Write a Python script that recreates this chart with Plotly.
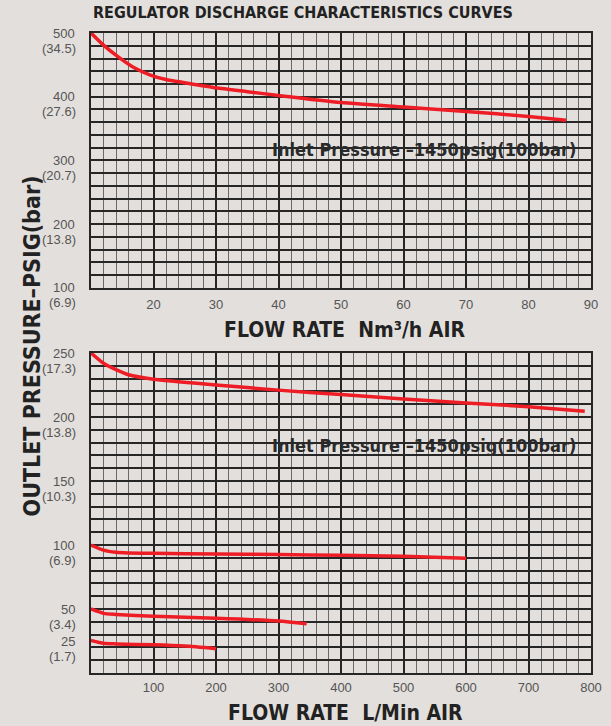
import plotly.graph_objects as go
from plotly.subplots import make_subplots

# ---------------- data ----------------
top_flow = [10, 12, 14.3, 17, 19.5, 22, 25, 30, 35, 40, 50, 60, 70, 80, 86]
top_press = [500, 481, 463, 445, 434, 427, 422, 414, 408, 402, 391, 384, 377, 369, 363]

c250_flow = [0, 20, 40, 60, 100, 200, 300, 400, 500, 600, 700, 790]
c250_press = [250, 242, 237, 233, 229.5, 225, 221, 217.5, 214, 211, 208, 204.5]
c100_flow = [0, 20, 40, 60, 100, 200, 300, 400, 500, 600]
c100_press = [100, 96, 94.3, 93.8, 93.5, 93, 92.5, 92, 91.3, 89.6]
c50_flow = [0, 20, 40, 100, 200, 300, 345]
c50_press = [50, 46.6, 45.8, 44.3, 42.7, 40.6, 38.5]
c25_flow = [0, 20, 40, 100, 150, 200]
c25_press = [25.5, 23.2, 22.7, 22, 21, 19]

top_xticks = [20, 30, 40, 50, 60, 70, 80, 90]
bot_xticks = [100, 200, 300, 400, 500, 600, 700, 800]
top_yticks = [100, 200, 300, 400, 500]
top_ybar = ["(6.9)", "(13.8)", "(20.7)", "(27.6)", "(34.5)"]
bot_yticks = [25, 50, 100, 150, 200, 250]
bot_ybar = ["(1.7)", "(3.4)", "(6.9)", "(10.3)", "(13.8)", "(17.3)"]

title_text = "REGULATOR DISCHARGE CHARACTERISTICS CURVES"
ytitle_text = "OUTLET PRESSURE–PSIG(bar)"
top_xtitle = "FLOW RATE  Nm³/h AIR"
bot_xtitle = "FLOW RATE  L/Min AIR"
inlet_text = "Inlet Pressure –1450psig(100bar)"

# ---------------- style ----------------
BG = "#e3dfdc"
RED = "#ee1d25"
DARK = "#262626"
MINOR = "#6a6a6a"
COND = "Liberation Sans Narrow, DejaVu Sans Condensed, Roboto, sans-serif"
TICKF = "Liberation Sans, Arial, sans-serif"

fig = make_subplots(rows=2, cols=1, vertical_spacing=0.0)

line = dict(color=RED, width=3.5, shape="spline", smoothing=0.6)
fig.add_trace(go.Scatter(x=top_flow, y=top_press, mode="lines", line=line,
                         showlegend=False, hoverinfo="skip"), row=1, col=1)
for fx, py in [(c250_flow, c250_press), (c100_flow, c100_press),
               (c50_flow, c50_press), (c25_flow, c25_press)]:
    fig.add_trace(go.Scatter(x=fx, y=py, mode="lines", line=line,
                             showlegend=False, hoverinfo="skip"), row=2, col=1)

axis_common = dict(showline=True, linecolor=DARK, linewidth=2, mirror=True,
                   zeroline=False, ticks="", fixedrange=True)

fig.update_xaxes(row=1, col=1, range=[10, 90], tickmode="array", tickvals=top_xticks,
                 showgrid=True, gridcolor=DARK, gridwidth=2,
                 minor=dict(tick0=10, dtick=2, showgrid=True, gridcolor=MINOR, gridwidth=1.3),
                 tickfont=dict(family=TICKF, size=13, color="#555555"),
                 ticklabelstandoff=3, domain=[0, 1], **axis_common)
fig.update_xaxes(row=2, col=1, range=[0, 800], tickmode="array", tickvals=bot_xticks,
                 showgrid=True, gridcolor=DARK, gridwidth=2,
                 minor=dict(tick0=0, dtick=20, showgrid=True, gridcolor=MINOR, gridwidth=1.3),
                 tickfont=dict(family=TICKF, size=13, color="#555555"),
                 ticklabelstandoff=1, domain=[0, 1], **axis_common)
fig.update_yaxes(row=1, col=1, range=[100, 500], tick0=100, dtick=20,
                 showgrid=True, gridcolor=DARK, gridwidth=2, showticklabels=False,
                 domain=[0.6016, 1], **axis_common)
fig.update_yaxes(row=2, col=1, range=[0, 250], tick0=0, dtick=10,
                 showgrid=True, gridcolor=DARK, gridwidth=2, showticklabels=False,
                 domain=[0, 0.5], **axis_common)

ann = []
tf = dict(family=TICKF, size=13, color="#555555")
for yref, vals, bars in [("y", top_yticks, top_ybar), ("y2", bot_yticks, bot_ybar)]:
    for v, b in zip(vals, bars):
        ann.append(dict(xref="paper", yref=yref, x=0, y=v, xshift=-14, text=str(v),
                        xanchor="right", yanchor="middle", showarrow=False, font=tf))
        ann.append(dict(xref="paper", yref=yref, x=0, y=v, xshift=-13, yshift=-15, text=b,
                        xanchor="right", yanchor="middle", showarrow=False, font=tf))

ann.append(dict(xref="paper", yref="paper", x=0, y=1, xanchor="left", yanchor="bottom",
                yshift=9, text="<b>" + title_text + "</b>", showarrow=False,
                font=dict(family=COND, size=16, color="#222222")))
ann.append(dict(xref="paper", yref="paper", x=-0.119, y=0.511, xanchor="center", yanchor="middle",
                textangle=-90, text="<b>" + ytitle_text + "</b>", showarrow=False,
                font=dict(family=COND, size=23, color="#222222")))
ann.append(dict(xref="paper", yref="paper", x=0.507, y=(673 - 330) / 640, xanchor="center",
                yanchor="middle", text="<b>" + top_xtitle + "</b>", showarrow=False,
                font=dict(family=COND, size=21, color="#222222")))
ann.append(dict(xref="paper", yref="paper", x=0.509, y=(673 - 713) / 640, xanchor="center",
                yanchor="middle", text="<b>" + bot_xtitle + "</b>", showarrow=False,
                font=dict(family=COND, size=21, color="#222222")))
for yp in [(673 - 149) / 640, (673 - 445) / 640]:
    ann.append(dict(xref="paper", yref="paper", x=(589 - 91) / 511, y=yp, xanchor="right",
                    yanchor="middle", text="<b>" + inlet_text + "</b>", showarrow=False,
                    font=dict(family=COND, size=18, color="#2a2a2a")))

fig.update_layout(width=611, height=726, margin=dict(l=91, r=9, t=33, b=53),
                  paper_bgcolor=BG, plot_bgcolor=BG, annotations=ann, showlegend=False)

fig.write_html("out.html", config={"displayModeBar": False},
               post_script="document.body.style.margin='0';document.body.style.background='#e3dfdc';")
